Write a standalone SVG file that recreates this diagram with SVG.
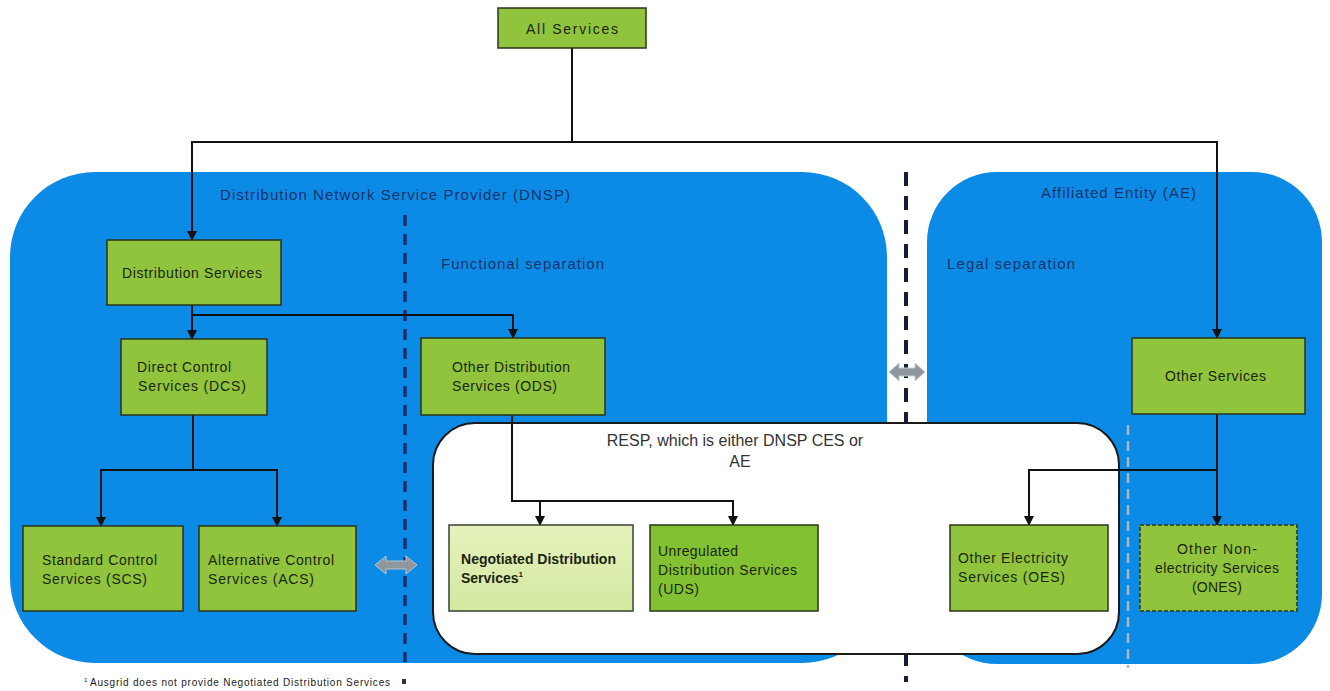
<svg xmlns="http://www.w3.org/2000/svg" width="1330" height="691" viewBox="0 0 1330 691">
<style>
.box{fill:#8fc43c;stroke:#2a3418;stroke-width:1.5}
.t{font-family:"Liberation Sans",Arial,sans-serif;font-size:14px;fill:#1c2410}
.h{font-family:"Liberation Sans",Arial,sans-serif;font-size:15px;fill:#17336a}
.c{fill:none;stroke:#111;stroke-width:2}
.blob{fill:#0b8be6}
</style>
<defs>
<marker id="ah" viewBox="0 0 10 10" refX="9" refY="5" markerWidth="10" markerHeight="10" markerUnits="userSpaceOnUse" orient="auto">
<path d="M0,0 L10,5 L0,10 z" fill="#111"/>
</marker>
<linearGradient id="ndsg" x1="0" y1="0" x2="0" y2="1">
<stop offset="0" stop-color="#e6f2bd"/>
<stop offset="1" stop-color="#d3e8a0"/>
</linearGradient>
</defs>
<rect width="1330" height="691" fill="#ffffff"/>

<g id="dnsp">
<rect class="blob" x="10" y="172" width="877" height="491" rx="85" ry="85"/>
<text class="h" x="220" y="200" textLength="350">Distribution Network Service Provider (DNSP)</text>
<text class="h" x="441" y="269" textLength="163">Functional separation</text>
</g>
<g id="ae">
<rect class="blob" x="927" y="172" width="395" height="492" rx="70" ry="70"/>
<text class="h" x="1041" y="198" textLength="155">Affiliated Entity (AE)</text>
<text class="h" x="947" y="269" textLength="128">Legal separation</text>
</g>

<g id="separators">
<line x1="405" y1="215" x2="405" y2="662" stroke="#1a2e6e" stroke-width="3.5" stroke-dasharray="11,8"/>
<line x1="906" y1="172" x2="906" y2="682" stroke="#151c35" stroke-width="4" stroke-dasharray="14,10"/>
<line x1="1128" y1="425" x2="1128" y2="668" stroke="#a9b4bf" stroke-width="2.5" stroke-dasharray="10,6"/>
<polygon points="375,565 386,556 386,561 406,561 406,556 417,565 406,574 406,569 386,569 386,574" fill="#8f969c" stroke="#b9c6d0" stroke-width="1"/>
<polygon points="889,372 899,363 899,368 915,368 915,363 925,372 915,381 915,376 899,376 899,381" fill="#8f969c" stroke="#c4ccd2" stroke-width="1"/>
</g>

<g id="resp">
<rect x="433" y="423" width="686" height="231" rx="42" ry="42" fill="#ffffff" stroke="#1a1a1a" stroke-width="2"/>
<text x="735" y="446" text-anchor="middle" font-family="Liberation Sans,Arial,sans-serif" font-size="16" fill="#333">RESP, which is either DNSP CES or</text>
<text x="740" y="467" text-anchor="middle" font-family="Liberation Sans,Arial,sans-serif" font-size="16" fill="#333">AE</text>
</g>

<g id="connectors">
<polyline class="c" points="572,48 572,142 192,142 192,240" marker-end="url(#ah)"/>
<polyline class="c" points="572,142 1217,142 1217,338" marker-end="url(#ah)"/>
<polyline class="c" points="192,305 192,339" marker-end="url(#ah)"/>
<polyline class="c" points="192,315 513,315 513,338" marker-end="url(#ah)"/>
<polyline class="c" points="193,415 193,470 101,470 101,526" marker-end="url(#ah)"/>
<polyline class="c" points="193,470 277,470 277,526" marker-end="url(#ah)"/>
<polyline class="c" points="512,415 512,501 540,501 540,525" marker-end="url(#ah)"/>
<polyline class="c" points="540,501 733,501 733,525" marker-end="url(#ah)"/>
<polyline class="c" points="1217,414 1217,470 1029,470 1029,525" marker-end="url(#ah)"/>
<polyline class="c" points="1217,470 1217,525" marker-end="url(#ah)"/>
</g>

<g id="all-services">
<rect class="box" x="498" y="8" width="148" height="40"/>
<text class="t" x="572" y="34" text-anchor="middle" font-size="16" textLength="92">All Services</text>
</g>
<g id="distribution-services">
<rect class="box" x="107" y="240" width="174" height="65"/>
<text class="t" x="122" y="278" textLength="140">Distribution Services</text>
</g>
<g id="dcs">
<rect class="box" x="121" y="339" width="146" height="76"/>
<text class="t" x="137" y="372" textLength="94">Direct Control</text>
<text class="t" x="138" y="391" textLength="108">Services  (DCS)</text>
</g>
<g id="ods">
<rect class="box" x="421" y="338" width="184" height="77"/>
<text class="t" x="452" y="372" textLength="118">Other Distribution</text>
<text class="t" x="452" y="391" textLength="105">Services (ODS)</text>
</g>
<g id="other-services">
<rect class="box" x="1132" y="338" width="173" height="76"/>
<text class="t" x="1165" y="381" textLength="101">Other Services</text>
</g>
<g id="scs">
<rect class="box" x="23" y="526" width="160" height="85"/>
<text class="t" x="42" y="565" textLength="115">Standard Control</text>
<text class="t" x="42" y="584" textLength="105">Services  (SCS)</text>
</g>
<g id="acs">
<rect class="box" x="199" y="526" width="157" height="85"/>
<text class="t" x="208" y="565" textLength="126">Alternative Control</text>
<text class="t" x="208" y="584" textLength="106">Services (ACS)</text>
</g>
<g id="nds">
<rect x="449" y="525" width="184" height="86" fill="url(#ndsg)" stroke="#3a4030" stroke-width="1.5"/>
<text class="t" x="461" y="564" font-weight="bold" textLength="155">Negotiated  Distribution</text>
<text class="t" x="461" y="583" font-weight="bold">Services<tspan font-size="8" dy="-6">1</tspan></text>
</g>
<g id="uds">
<rect x="650" y="525" width="168" height="86" fill="#82c232" stroke="#2a3418" stroke-width="1.5"/>
<text class="t" x="658" y="556" textLength="80">Unregulated</text>
<text class="t" x="658" y="575" textLength="139">Distribution  Services</text>
<text class="t" x="658" y="594" textLength="41">(UDS)</text>
</g>
<g id="oes">
<rect class="box" x="950" y="525" width="158" height="86"/>
<text class="t" x="958" y="563" textLength="110">Other Electricity</text>
<text class="t" x="958" y="582" textLength="107">Services  (OES)</text>
</g>
<g id="ones">
<rect x="1140" y="525" width="157" height="86" fill="#8fc43c" stroke="#2a3418" stroke-width="1.5" stroke-dasharray="4,2"/>
<text class="t" x="1217" y="554" text-anchor="middle" textLength="80">Other Non-</text>
<text class="t" x="1217" y="573" text-anchor="middle" textLength="124">electricity Services</text>
<text class="t" x="1217" y="592" text-anchor="middle" textLength="50">(ONES)</text>
</g>

<g id="footnote">
<text x="84" y="682" font-family="Liberation Sans,Arial,sans-serif" font-size="6" fill="#222">1</text>
<text x="90" y="686" font-family="Liberation Sans,Arial,sans-serif" font-size="10" fill="#222" textLength="300">Ausgrid does not provide Negotiated Distribution Services</text>
<rect x="402" y="679" width="4" height="5" fill="#333"/>
</g>
</svg>
